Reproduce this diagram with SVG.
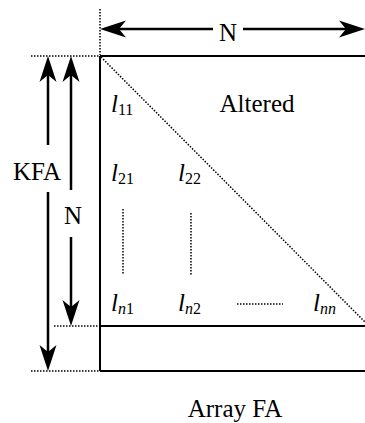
<svg xmlns="http://www.w3.org/2000/svg" width="365" height="423" viewBox="0 0 365 423">
<defs>
<path id="ah" d="M0,0 L-26,-8.5 L-19,0 L-26,8.5 Z" fill="#000"/>
</defs>
<g id="array" stroke="#000" stroke-width="2" fill="none">
<line x1="100" y1="56" x2="100" y2="371"/>
<line x1="100" y1="56" x2="365" y2="56"/>
<line x1="100" y1="326" x2="365" y2="326"/>
<line x1="100" y1="371" x2="365" y2="371"/>
<line x1="101" y1="57" x2="365" y2="322" stroke-width="1.5" stroke-dasharray="1.5 1.5"/>
</g>
<g id="guides" stroke="#000" stroke-width="1.5" stroke-dasharray="1.5 1.5" fill="none">
<line x1="100" y1="9" x2="100" y2="55"/>
<line x1="31" y1="56" x2="99" y2="56"/>
<line x1="54" y1="326" x2="99" y2="326"/>
<line x1="31" y1="371" x2="99" y2="371"/>
<line x1="123" y1="209" x2="123" y2="275"/>
<line x1="191" y1="213" x2="191" y2="275"/>
<line x1="237" y1="304" x2="283" y2="304"/>
</g>
<g id="connectors" stroke="#000" stroke-width="2.5" fill="none">
<line x1="110" y1="29" x2="213" y2="29"/>
<line x1="243" y1="29" x2="355" y2="29"/>
<use href="#ah" stroke="none" transform="translate(100,29) rotate(180)"/>
<use href="#ah" stroke="none" transform="translate(365,29)"/>
<line x1="48" y1="66" x2="48" y2="145"/>
<line x1="48" y1="192" x2="48" y2="361"/>
<use href="#ah" stroke="none" transform="translate(48,56) rotate(-90)"/>
<use href="#ah" stroke="none" transform="translate(48,371) rotate(90)"/>
<line x1="71" y1="66" x2="71" y2="190"/>
<line x1="71" y1="237" x2="71" y2="316"/>
<use href="#ah" stroke="none" transform="translate(71,56) rotate(-90)"/>
<use href="#ah" stroke="none" transform="translate(71,326) rotate(90)"/>
</g>
<g id="labels">
<text font-family="Liberation Serif" font-size="25" x="228" y="41" text-anchor="middle">N</text>
<text font-family="Liberation Serif" font-size="25" x="37" y="180" text-anchor="middle">KFA</text>
<text font-family="Liberation Serif" font-size="25" x="73" y="224" text-anchor="middle">N</text>
<text font-family="Liberation Serif" font-size="25" x="257" y="112" text-anchor="middle">Altered</text>
<text font-family="Liberation Serif" font-size="25" x="235" y="417" text-anchor="middle">Array FA</text>
</g>
<g id="elements">
<text font-family="Liberation Serif" font-size="25" font-style="italic" x="111" y="112">l<tspan font-size="16" font-style="normal" dy="3">11</tspan></text>
<text font-family="Liberation Serif" font-size="25" font-style="italic" x="111" y="181">l<tspan font-size="16" font-style="normal" dy="3">21</tspan></text>
<text font-family="Liberation Serif" font-size="25" font-style="italic" x="178" y="181">l<tspan font-size="16" font-style="normal" dy="3">22</tspan></text>
<text font-family="Liberation Serif" font-size="25" font-style="italic" x="111" y="311">l<tspan font-size="16" dy="3">n</tspan><tspan font-size="16" font-style="normal">1</tspan></text>
<text font-family="Liberation Serif" font-size="25" font-style="italic" x="178" y="311">l<tspan font-size="16" dy="3">n</tspan><tspan font-size="16" font-style="normal">2</tspan></text>
<text font-family="Liberation Serif" font-size="25" font-style="italic" x="313" y="311">l<tspan font-size="16" dy="3">nn</tspan></text>
</g>
</svg>
